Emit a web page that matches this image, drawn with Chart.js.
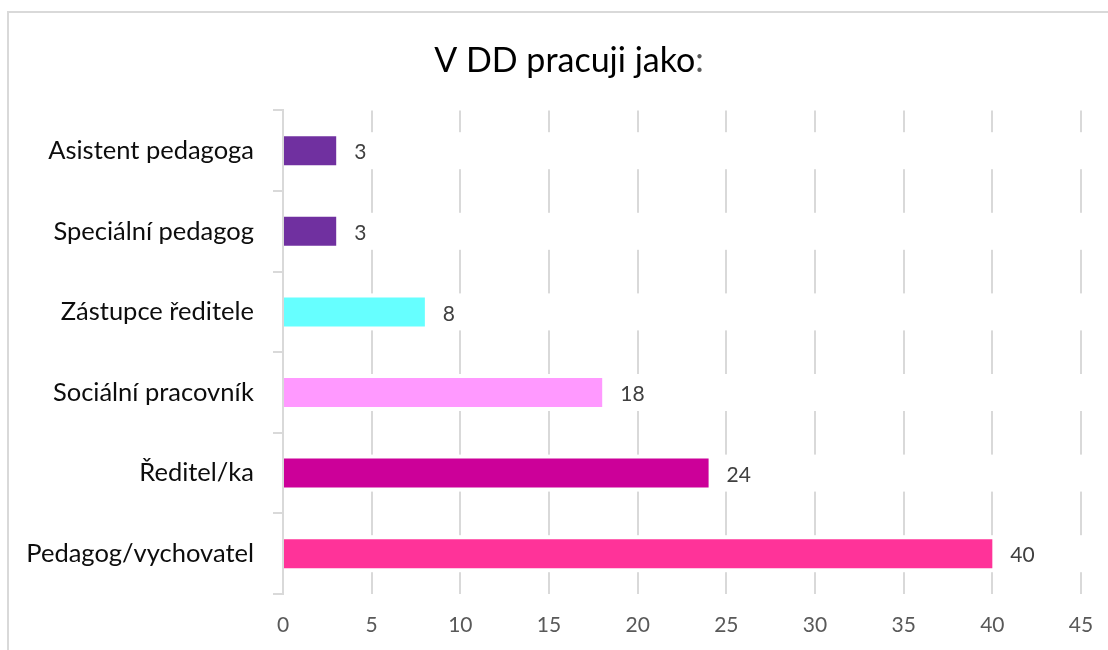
<!DOCTYPE html>
<html>
<head>
<meta charset="utf-8">
<script src="https://cdn.jsdelivr.net/npm/chart.js@4"></script>
<style>
  body { margin: 0; background: #fff; }
  #frame {
    position: absolute; left: 7px; top: 11px; width: 1200px; height: 700px;
    border-left: 2px solid #d9d9d9; border-top: 2px solid #d9d9d9;
  }
  canvas { position: absolute; left: 0; top: 0; }
</style>
</head>
<body>
<div id="frame"></div>
<canvas id="barChart" width="1108" height="650"></canvas>
<script>
const titleText = 'V DD pracuji jako';
const categories = [
  'Asistent pedagoga',
  'Speciální pedagog',
  'Zástupce ředitele',
  'Sociální pracovník',
  'Ředitel/ka',
  'Pedagog/vychovatel'
];
const counts = [3, 3, 8, 18, 24, 40];
const barColors = ['#7030A0', '#7030A0', '#66FFFF', '#FF99FF', '#CC0099', '#FF3399'];
const xTicks = [0, 5, 10, 15, 20, 25, 30, 35, 40, 45];

const FONT = 'Lato, "Open Sans", sans-serif';

// Excel-like look: gridlines are broken around each bar row
const rowGaps = {
  id: 'rowGaps',
  beforeDatasetsDraw(chart) {
    const { ctx, chartArea } = chart;
    const meta = chart.getDatasetMeta(0);
    ctx.save();
    ctx.fillStyle = '#ffffff';
    meta.data.forEach(bar => {
      const h = bar.height + 8;
      ctx.fillRect(chartArea.left + 1.5, bar.y - h / 2, chartArea.width + 4, h);
    });
    ctx.restore();
  }
};

// value labels to the right of each bar
const valueLabels = {
  id: 'valueLabels',
  afterDatasetsDraw(chart) {
    const { ctx } = chart;
    const meta = chart.getDatasetMeta(0);
    ctx.save();
    ctx.font = '21px ' + FONT;
    ctx.fillStyle = '#404040';
    ctx.textAlign = 'left';
    ctx.textBaseline = 'middle';
    meta.data.forEach((bar, i) => {
      ctx.fillText(counts[i], bar.x + 18, bar.y + 2);
    });
    ctx.restore();
  }
};

// title with grey colon, drawn over the (transparent) built-in title box
const twoToneTitle = {
  id: 'twoToneTitle',
  afterDraw(chart) {
    const { ctx } = chart;
    ctx.save();
    ctx.font = '34px ' + FONT;
    ctx.textBaseline = 'middle';
    const w1 = ctx.measureText(titleText).width;
    const w2 = ctx.measureText(':').width;
    const x0 = 569 - (w1 + w2) / 2;
    ctx.textAlign = 'left';
    ctx.fillStyle = '#000000';
    ctx.fillText(titleText, x0, 61);
    ctx.fillStyle = '#595959';
    ctx.fillText(':', x0 + w1, 61);
    ctx.restore();
  }
};

new Chart(document.getElementById('barChart'), {
  type: 'bar',
  data: {
    labels: categories,
    datasets: [{
      data: counts,
      backgroundColor: barColors,
      borderWidth: 0,
      barPercentage: 0.36,
      categoryPercentage: 1
    }]
  },
  options: {
    indexAxis: 'y',
    responsive: false,
    animation: false,
    layout: { padding: { left: 0, right: 27, top: 0, bottom: 0 } },
    plugins: {
      legend: { display: false },
      tooltip: { enabled: false },
      title: {
        display: true,
        text: titleText + ':',
        color: 'rgba(0,0,0,0)',
        font: { family: FONT, size: 32, weight: 'normal' },
        padding: { top: 42, bottom: 30 }
      }
    },
    scales: {
      x: {
        min: 0,
        max: 45,
        afterBuildTicks: scale => { scale.ticks = xTicks.map(v => ({ value: v })); },
        afterFit: scale => {
          scale.height = 56;
          scale.paddingLeft = 0;
          scale.paddingRight = 0;
        },
        grid: { color: '#d9d9d9', lineWidth: 2, drawTicks: false },
        border: { display: false },
        ticks: { color: '#595959', font: { family: FONT, size: 21 }, padding: 19, maxRotation: 0 }
      },
      y: {
        afterFit: scale => { scale.width = 283; },
        grid: { drawOnChartArea: false, drawTicks: true, tickLength: 10, color: '#d9d9d9', lineWidth: 2 },
        border: { display: true, color: '#d9d9d9', width: 2 },
        ticks: { color: '#0d0d0d', font: { family: FONT, size: 25.5 }, padding: 19 }
      }
    }
  },
  plugins: [rowGaps, valueLabels, twoToneTitle]
});
</script>
</body>
</html>
